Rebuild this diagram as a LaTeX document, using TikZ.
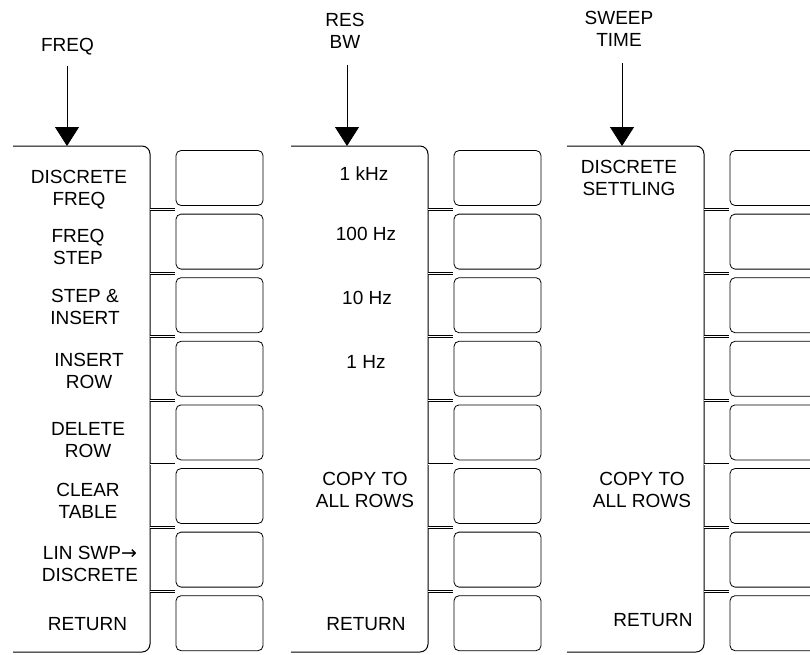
\documentclass[tikz,border=0pt]{standalone}
\usepackage{fontspec}
\setmainfont{Liberation Sans}
\newfontfamily\arrowfont{DejaVu Sans}
\usetikzlibrary{arrows.meta}
\newcommand\KeyPitch{63.6}

\begin{document}
\begin{tikzpicture}[x=1pt, y=-1pt,
    softkey/.style={draw, rounded corners=5pt, line width=0.8pt, minimum width=87pt, minimum height=55pt, inner sep=0pt},
    menubox/.style={line width=1pt, rounded corners=8pt},
    tabbar/.style={double, double distance=0.9pt, line width=1pt},
    keytext/.style={font=\fontsize{19}{22}\selectfont, align=center, inner sep=0pt},
    hardkey/.style={-{Triangle[width=24pt,length=19pt]}, line width=0.8pt}]
  \useasboundingbox (0,0) rectangle (810,654);
  \clip (0,0) rectangle (810,654);
  % menu panels with their softkeys
  \foreach \p/\e in {1/150, 2/428, 3/704}{
    \draw[menubox] (\e-137,146) -- (\e,146) -- (\e,652) -- (\e-137,652);
    \foreach \k in {0,...,7}{
      \node[softkey] at (\e+69.5, {146+\KeyPitch*\k+32}) (key\p\k) {};
    }
    \foreach \k in {1,...,7}{
      \draw[tabbar] (\e, {146+\KeyPitch*\k}) -- ++(25,0);
    }
  }
  % hardkeys
  \node[keytext] at (67.5,47) (freq) {FREQ};
  \node[keytext] at (345,31) (resbw) {RES\\BW};
  \node[keytext] at (619,28.5) (swp) {SWEEP\\TIME};
  \coordinate (freqs) at (67,66);   \coordinate (freqt) at (67,146);
  \coordinate (resbws) at (347,65); \coordinate (resbwt) at (347,146);
  \coordinate (swps) at (622,63);   \coordinate (swpt) at (622,146);
  \draw[hardkey] (freqs) -- (freqt);
  \draw[hardkey] (resbws) -- (resbwt);
  \draw[hardkey] (swps) -- (swpt);
  % FREQ menu
  \node[keytext] at (79,189.5) (fa) {DISCRETE\\FREQ};
  \node[keytext] at (78,246.5) (fb) {FREQ\\STEP};
  \node[keytext] at (85,306.5) (fc) {STEP \&\\INSERT};
  \node[keytext] at (89,370.5) (fd) {INSERT\\ROW};
  \node[keytext] at (88,440) (fe) {DELETE\\ROW};
  \node[keytext] at (88,501) (ff) {CLEAR\\TABLE};
  \node[keytext] at (90,564) (fg) {LIN SWP{\arrowfont →}\\DISCRETE};
  \node[keytext] at (87.5,624.5) (fh) {RETURN};
  % RES BW menu
  \node[keytext] at (364,174) (ra) {1 kHz};
  \node[keytext] at (366,233.5) (rb) {100 Hz};
  \node[keytext] at (367,298) (rc) {10 Hz};
  \node[keytext] at (366,362) (rd) {1 Hz};
  \node[keytext] at (365,490) (rf) {COPY TO\\ALL ROWS};
  \node[keytext] at (366,624.5) (rh) {RETURN};
  % SWEEP TIME menu
  \node[keytext] at (629,177.5) (sa) {DISCRETE\\SETTLING};
  \node[keytext] at (642,490) (sf) {COPY TO\\ALL ROWS};
  \node[keytext] at (653,620.5) (sh) {RETURN};
\end{tikzpicture}
\end{document}
